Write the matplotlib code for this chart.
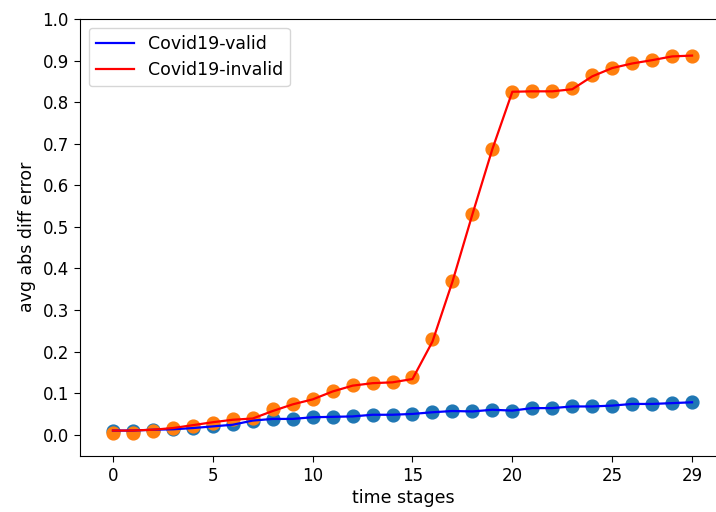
import matplotlib
matplotlib.use("Agg")
import matplotlib.pyplot as plt

stages = list(range(30))
valid_pts = [0.010, 0.010, 0.012, 0.013, 0.016, 0.020, 0.026, 0.034, 0.038, 0.038,
             0.042, 0.043, 0.044, 0.048, 0.048, 0.050, 0.054, 0.057, 0.056, 0.060,
             0.058, 0.064, 0.064, 0.068, 0.068, 0.070, 0.074, 0.074, 0.076, 0.078]
invalid_pts = [0.004, 0.004, 0.008, 0.017, 0.022, 0.029, 0.037, 0.041, 0.061, 0.075,
               0.085, 0.104, 0.119, 0.124, 0.126, 0.138, 0.230, 0.370, 0.532, 0.687,
               0.825, 0.827, 0.827, 0.833, 0.865, 0.883, 0.895, 0.902, 0.911, 0.912]
valid_line = [0.010, 0.010, 0.012, 0.013, 0.016, 0.020, 0.024, 0.034, 0.038, 0.038,
              0.042, 0.043, 0.044, 0.048, 0.048, 0.050, 0.054, 0.057, 0.056, 0.060,
              0.058, 0.064, 0.064, 0.068, 0.068, 0.070, 0.074, 0.074, 0.076, 0.078]
invalid_line = [0.010, 0.010, 0.012, 0.016, 0.023, 0.030, 0.036, 0.039, 0.057, 0.073,
                0.085, 0.104, 0.118, 0.124, 0.126, 0.134, 0.224, 0.368, 0.530, 0.687,
                0.825, 0.826, 0.826, 0.831, 0.862, 0.882, 0.893, 0.901, 0.910, 0.912]
xticks = [0, 5, 10, 15, 20, 25, 29]

fig = plt.figure(figsize=(7.16, 5.12), dpi=100)
ax = fig.add_axes([80/716, (512-455.5)/512, (726-80)/716, (455.5-19)/512])

ax.scatter(stages, valid_pts, s=85, color="#1f77b4", zorder=2)
ax.scatter(stages, invalid_pts, s=85, color="#ff7f0e", zorder=2)
ax.plot(stages, valid_line, color="blue", lw=1.6, label="Covid19-valid", zorder=3)
ax.plot(stages, invalid_line, color="red", lw=1.6, label="Covid19-invalid", zorder=3)

ax.set_xlim(-1.65, 30.7)
ax.set_ylim(-0.05, 1.0)
ax.spines["right"].set_visible(False)
ax.set_xticks(xticks)
ax.set_yticks([i / 10 for i in range(11)])
ax.tick_params(labelsize=12, length=4.5)
ax.set_xlabel("time stages", fontsize=12.5, labelpad=3)
ax.set_ylabel("avg abs diff error", fontsize=12.5, labelpad=5)
ax.legend(loc="upper left", fontsize=12.5, handlelength=2.2)

fig.savefig("out.png", dpi=100)
